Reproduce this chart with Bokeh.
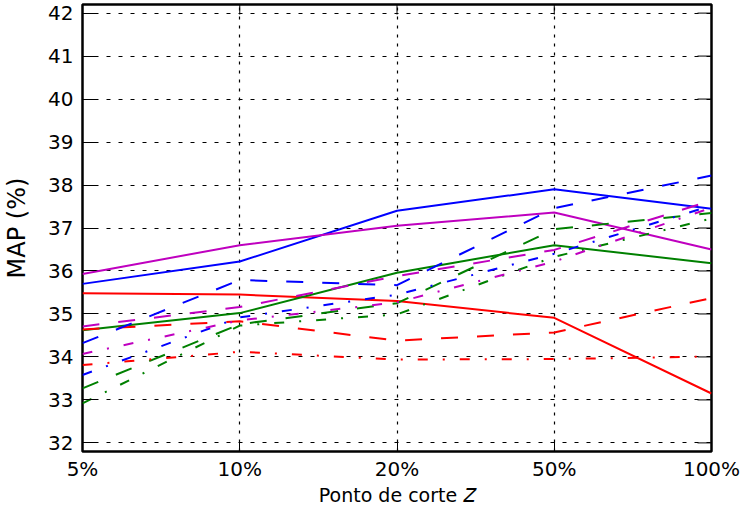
import math
from bokeh.plotting import figure
from bokeh.models import Range1d, FixedTicker
from bokeh.embed import file_html
from bokeh.resources import INLINE

# Cut-off points on the x axis and the MAP ticks on the y axis
cutoffs = ["5%", "10%", "20%", "50%", "100%"]
map_ticks = [32, 33, 34, 35, 36, 37, 38, 39, 40, 41, 42]

# MAP (%) per cut-off, one list per configuration
red_solid = [35.48, 35.45, 35.30, 34.91, 33.15]
red_dashed = [34.64, 34.83, 34.38, 34.57, 35.37]
red_dashdot = [33.81, 34.12, 33.94, 33.95, 34.01]

green_solid = [34.62, 35.02, 35.96, 36.60, 36.18]
green_dashed = [33.27, 34.76, 35.25, 36.97, 37.35]
green_dashdot = [32.92, 34.73, 34.99, 36.33, 37.22]

blue_solid = [35.70, 36.22, 37.40, 37.90, 37.45]
blue_dashed = [34.32, 35.79, 35.67, 37.46, 38.22]
blue_dashdot = [33.58, 34.92, 35.45, 36.40, 37.52]

magenta_solid = [35.93, 36.60, 37.05, 37.36, 36.50]
magenta_dashed = [34.71, 35.16, 35.88, 36.49, 37.64]
magenta_dashdot = [34.07, 34.85, 35.27, 36.22, 37.47]

RED, GREEN, BLUE, MAGENTA = "#ff0000", "#008000", "#0000ff", "#bf00bf"
SOLID, DASHED, DASHDOT = "solid", "17 19", "10 15 2 15"

series = [
    (red_solid, RED, SOLID), (green_solid, GREEN, SOLID),
    (blue_solid, BLUE, SOLID), (magenta_solid, MAGENTA, SOLID),
    (red_dashed, RED, DASHED), (green_dashed, GREEN, DASHED),
    (blue_dashed, BLUE, DASHED), (magenta_dashed, MAGENTA, DASHED),
    (red_dashdot, RED, DASHDOT), (green_dashdot, GREEN, DASHDOT),
    (blue_dashdot, BLUE, DASHDOT), (magenta_dashdot, MAGENTA, DASHDOT),
]

FONT = "DejaVu Sans"
xs = list(range(len(cutoffs)))
x_lo, x_hi = 0, len(cutoffs) - 1
y_lo, y_hi = 31.8, 42.2

p = figure(
    width=751, height=508,
    x_range=Range1d(x_lo, x_hi), y_range=Range1d(y_lo, y_hi),
    output_backend="svg", toolbar_location=None,
    min_border_left=82, min_border_right=40,
    min_border_top=4, min_border_bottom=57,
    background_fill_color="white", border_fill_color="white",
)
p.outline_line_color = "black"
p.outline_line_width = 2.5

for vals, color, dash in series:
    p.line(xs, vals, line_color=color, line_width=2, line_dash=dash)

# axes
xa = p.xaxis[0]
xa.ticker = FixedTicker(ticks=xs)
xa.major_label_overrides = {i: c for i, c in enumerate(cutoffs)}
xa.axis_label = "Ponto de corte \U0001D44D"
ya = p.yaxis[0]
ya.ticker = FixedTicker(ticks=map_ticks)
ya.axis_label = "MAP (%)"

for ax in (xa, ya):
    ax.axis_line_color = None
    ax.major_tick_out = 0
    ax.minor_tick_line_color = None
    ax.major_tick_line_color = "black"
    ax.major_label_text_font = FONT
    ax.major_label_text_font_size = "20px"
    ax.major_label_text_color = "black"
    ax.axis_label_text_font = FONT
    ax.axis_label_text_font_style = "normal"
    ax.axis_label_text_color = "black"
xa.major_tick_in = 10
xa.major_label_standoff = 5
xa.axis_label_text_font_size = "19px"
xa.axis_label_standoff = 0
ya.major_tick_in = 14
ya.major_label_standoff = 9
ya.axis_label_text_font_size = "24px"
ya.axis_label_standoff = 14

# inward ticks along the right and top edges of the frame
p.ray(x=[x_hi] * len(map_ticks), y=map_ticks, length=14, length_units="screen",
      angle=math.pi, line_color="black", line_width=1)
p.ray(x=xs, y=[y_hi] * len(xs), length=10, length_units="screen",
      angle=-math.pi / 2, line_color="black", line_width=1)

# grid
p.xgrid.ticker = FixedTicker(ticks=xs)
p.ygrid.ticker = FixedTicker(ticks=map_ticks)
p.xgrid.grid_line_color = "black"
p.xgrid.grid_line_dash = "3 6"
p.xgrid.grid_line_width = 1.2
p.ygrid.grid_line_color = "black"
p.ygrid.grid_line_dash = "4 8"
p.ygrid.grid_line_width = 1

open("out.html", "w").write(file_html(p, INLINE))
